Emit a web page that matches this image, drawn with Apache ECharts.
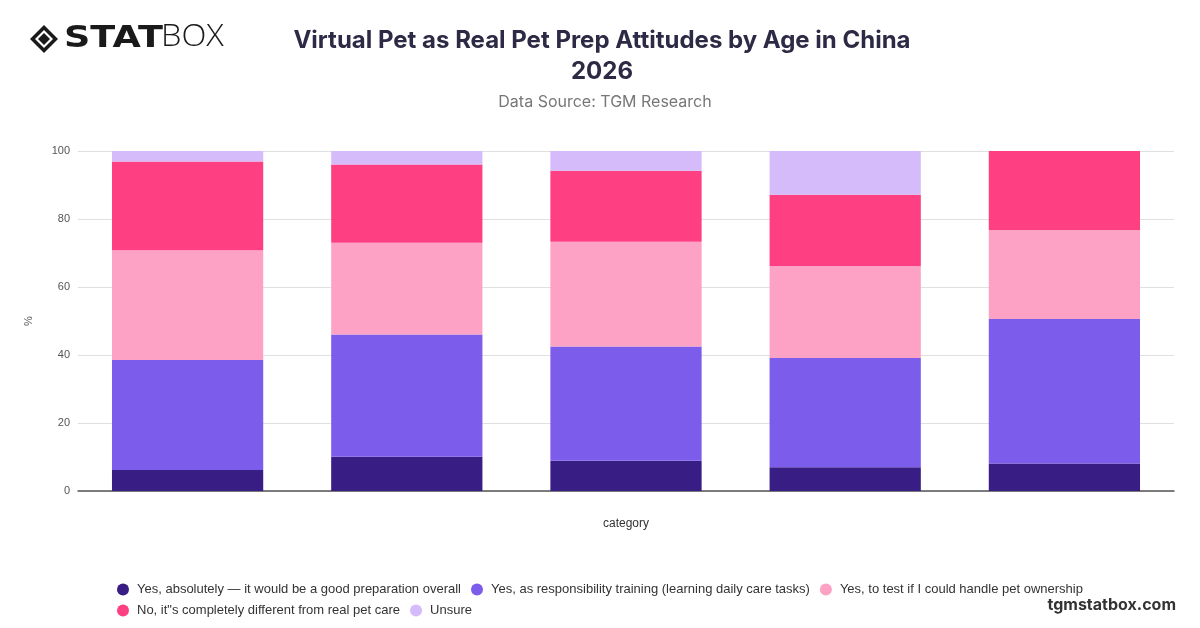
<!DOCTYPE html>
<html>
<head>
<meta charset="utf-8">
<script src="https://cdn.jsdelivr.net/npm/echarts@6/dist/echarts.min.js"></script>
<style>html,body{margin:0;padding:0;background:#fff}#c{width:1200px;height:628px}</style>
</head>
<body>
<div id="c"></div>
<script>
const categories = ['18-24', '25-34', '35-44', '45-54', '55+'];
const seriesNames = [
  'Yes, absolutely — it would be a good preparation overall',
  'Yes, as responsibility training (learning daily care tasks)',
  'Yes, to test if I could handle pet ownership',
  'No, it"s completely different from real pet care',
  'Unsure'
];
const absolutely = [6.2, 10.1, 8.9, 7.0, 8.1];
const responsibility = [32.3, 35.9, 33.6, 32.1, 42.5];
const testOwnership = [32.3, 27.0, 30.8, 27.1, 26.2];
const different = [26.1, 23.0, 20.9, 20.9, 23.2];
const unsure = [3.1, 4.0, 5.8, 12.9, 0];
const yTicks = [0, 20, 40, 60, 80, 100];

const colors = ['#381D85', '#7C5CEB', '#FDA2C4', '#FE3F82', '#D5BBFA'];
const values = [absolutely, responsibility, testOwnership, different, unsure];

const chart = echarts.init(document.getElementById('c'), null, {renderer: 'canvas'});
chart.setOption({
  backgroundColor: '#fff',
  animation: false,
  color: colors,
  title: [{
    text: 'Virtual Pet as Real Pet Prep Attitudes by Age in China\n2026',
    left: 597, top: 20, textAlign: 'center',
    textStyle: {fontFamily: 'Inter', fontWeight: 'bold', fontSize: 24, color: '#2D2A45', lineHeight: 31}
  }, {
    text: 'Data Source: TGM Research',
    left: 600, top: 89, textAlign: 'center',
    textStyle: {fontFamily: 'Inter', fontWeight: 'normal', fontSize: 16, color: '#777'}
  }],
  graphic: [
    {type: 'polygon', shape: {points: [[44, 25], [58, 39], [44, 53], [30, 39]]}, style: {fill: '#1a1a1a'}},
    {type: 'polygon', shape: {points: [[44, 30], [53, 39], [44, 48], [35, 39]]}, style: {fill: '#fff'}},
    {type: 'polygon', shape: {points: [[44, 33], [50, 39], [44, 45], [38, 39]]}, style: {fill: '#1a1a1a'}},
    {type: 'text', x: 64, y: 23, scaleX: 1.18, style: {text: 'STAT', font: '900 31px "DejaVu Sans"', fill: '#1a1a1a'}},
    {type: 'text', x: 161, y: 22, scaleX: 1.05, style: {text: 'BOX', font: '300 31px "Open Sans"', fill: '#1a1a1a'}},
    {type: 'text', right: 24, top: 597, style: {text: 'tgmstatbox.com', font: 'bold 16px Inter', fill: '#333'}}
  ],
  legend: {
    left: 112, top: 578, width: 1000,
    itemWidth: 12, itemHeight: 12, itemGap: 8,
    icon: 'circle',
    textStyle: {fontFamily: 'Liberation Sans', fontSize: 13, color: '#333', lineHeight: 13, padding: [0, 2, 0, 3]},
    data: seriesNames
  },
  grid: {left: 78, right: 26, top: 151, bottom: 137},
  xAxis: {
    type: 'category', data: categories,
    name: 'category', nameLocation: 'middle', nameGap: 27,
    nameTextStyle: {fontFamily: 'Liberation Sans', fontSize: 12, color: '#333'},
    axisLine: {lineStyle: {color: '#555', width: 1.5}},
    axisTick: {show: false}, axisLabel: {show: false}
  },
  yAxis: {
    type: 'value', min: 0, max: 100, interval: 20,
    name: '%', nameLocation: 'middle', nameGap: 44, nameRotate: 90,
    nameTextStyle: {fontFamily: 'Liberation Sans', fontSize: 11, color: '#555'},
    axisLabel: {fontFamily: 'Liberation Sans', fontSize: 11, color: '#555', margin: 8,
      formatter: v => yTicks.includes(v) ? String(v) : ''},
    splitLine: {lineStyle: {color: '#E0E0E0'}},
    axisLine: {show: false}, axisTick: {show: false}
  },
  series: seriesNames.map((n, i) => ({
    name: n, type: 'bar', stack: 'total', barWidth: '69%',
    data: values[i],
    itemStyle: {color: colors[i]}
  }))
});
</script>
</body>
</html>
